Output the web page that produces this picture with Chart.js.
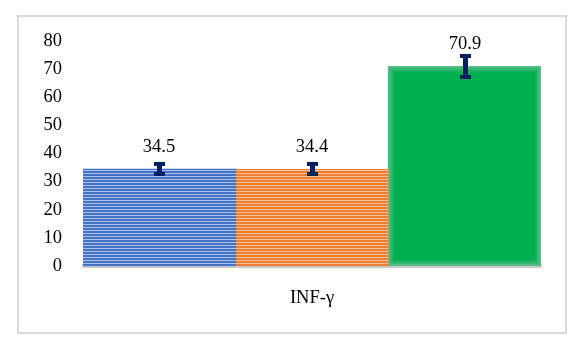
<!DOCTYPE html>
<html>
<head>
<meta charset="utf-8">
<script src="https://cdn.jsdelivr.net/npm/chart.js@4"></script>
<style>
  html, body { margin: 0; padding: 0; background: #fff; }
  #wrap { width: 586px; height: 348px; }
</style>
</head>
<body>
<div id="wrap"><canvas id="chart" width="586" height="348"></canvas></div>
<script>
// Data
const categories = ['INF-γ'];
const groupNames = ['Group 1', 'Group 2', 'Group 3'];
const groupValues = [34.5, 34.4, 70.9];
const groupErrors = [2.5, 2.5, 4.4];
const yTicks = [0, 10, 20, 30, 40, 50, 60, 70, 80];

const FONT = "'Liberation Serif', 'Times New Roman', Times, serif";
const FSIZE = 18.5;

// Striped fill like the Office pattern fills
function stripes(dark, light) {
  const c = document.createElement('canvas');
  c.width = 4; c.height = 3;
  const g = c.getContext('2d');
  g.fillStyle = dark; g.fillRect(0, 0, 4, 2);
  g.fillStyle = light; g.fillRect(0, 2, 4, 1);
  return g.createPattern(c, 'repeat');
}

const fills = [
  stripes('#4472C4', '#A9C0E8'),
  stripes('#ED7D31', '#F9C29B'),
  '#00B050'
];
const softEdge = [false, false, true];

// Outer frame
const framePlugin = {
  id: 'frame',
  beforeDraw(chart) {
    const ctx = chart.ctx;
    ctx.save();
    ctx.fillStyle = '#fff';
    ctx.fillRect(0, 0, chart.width, chart.height);
    ctx.strokeStyle = '#D9D9D9';
    ctx.lineWidth = 2;
    ctx.strokeRect(18, 16, 548, 317);
    ctx.restore();
  }
};

// Soft edges on the green bar, error bars and value labels
const errorPlugin = {
  id: 'errors',
  afterDatasetsDraw(chart) {
    const ctx = chart.ctx;
    const y = chart.scales.y;
    ctx.save();
    chart.data.datasets.forEach((ds, i) => {
      const meta = chart.getDatasetMeta(i);
      meta.data.forEach((bar, j) => {
        if (softEdge[i]) {
          const l = bar.x - bar.width / 2, r = bar.x + bar.width / 2;
          const t = bar.y, b = bar.base;
          for (let k = 0; k < 6; k++) {
            ctx.strokeStyle = 'rgba(170,200,185,' + (0.55 * (1 - k / 6)).toFixed(3) + ')';
            ctx.lineWidth = 1;
            ctx.strokeRect(l + k + 0.5, t + k + 0.5, r - l - 2 * k - 1, b - t - 2 * k - 1);
          }
        }

        const v = ds.data[j];
        const e = ds.errors[j];
        const x = Math.round(bar.x);
        const top = Math.round(y.getPixelForValue(v + e));
        const bot = Math.round(y.getPixelForValue(v - e));
        ctx.fillStyle = '#002060';
        ctx.fillRect(x - 2, top, 5, bot - top);
        ctx.fillRect(x - 5, top, 11, 4);
        ctx.fillRect(x - 5, bot - 4, 11, 4);

        ctx.fillStyle = '#000';
        ctx.font = FSIZE + 'px ' + FONT;
        ctx.textAlign = 'center';
        ctx.textBaseline = 'middle';
        ctx.fillText(v.toFixed(1), x, bar.y - 22);
      });
    });
    ctx.restore();
  }
};

function draw() {
  new Chart(document.getElementById('chart'), {
    type: 'bar',
    data: {
      labels: categories,
      datasets: groupNames.map((name, i) => ({
        label: name,
        data: [groupValues[i]],
        errors: [groupErrors[i]],
        backgroundColor: fills[i],
        borderWidth: 0,
        categoryPercentage: 1,
        barPercentage: 1
      }))
    },
    options: {
      responsive: false,
      animation: false,
      layout: { padding: { top: 41, right: 45, bottom: 0, left: 0 } },
      plugins: {
        legend: { display: false },
        tooltip: { enabled: false }
      },
      scales: {
        x: {
          grid: { display: false, drawTicks: false },
          border: { display: true, color: '#C8C8C8', width: 3 },
          ticks: { color: '#000', font: { family: FONT, size: FSIZE }, padding: 21 },
          afterFit: s => { s.height = 82; }
        },
        y: {
          min: 0,
          max: 80,
          afterBuildTicks: s => { s.ticks = yTicks.map(v => ({ value: v })); },
          grid: { display: false, drawTicks: false },
          border: { display: false },
          ticks: { color: '#000', font: { family: FONT, size: FSIZE }, padding: 21 },
          afterFit: s => { s.width = 83; }
        }
      }
    },
    plugins: [framePlugin, errorPlugin]
  });
}

document.fonts.load(FSIZE + "px 'Liberation Serif'").then(draw, draw);
</script>
</body>
</html>
